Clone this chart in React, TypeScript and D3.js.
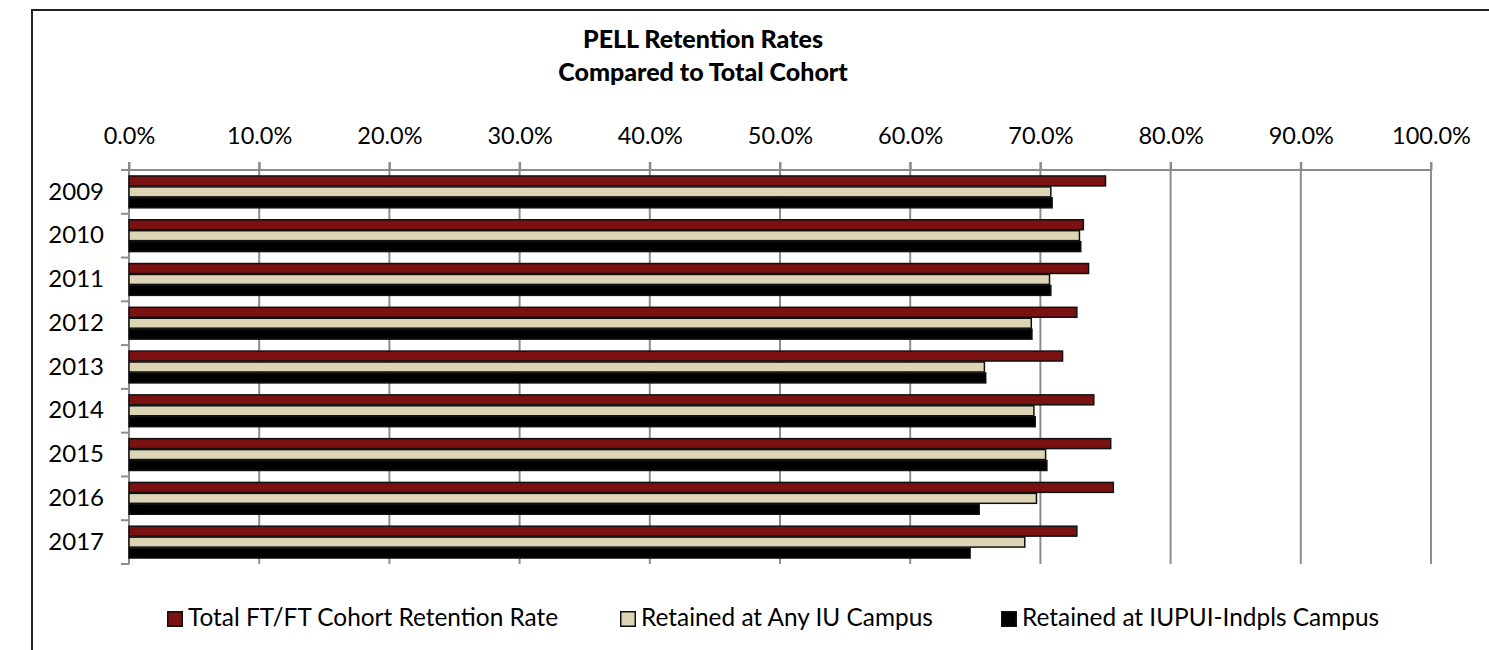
import * as d3 from 'd3';
import * as React from 'react';

const { useRef, useEffect } = React;

const width = 1489;
const height = 650;
const margin = { top: 170, right: 58, bottom: 86, left: 129 };

const years = ['2009', '2010', '2011', '2012', '2013', '2014', '2015', '2016', '2017'];

const seriesNames = [
  'Total FT/FT Cohort Retention Rate',
  'Retained at Any IU Campus',
  'Retained at IUPUI-Indpls Campus',
];

// values in %
const totalCohort = [75.0, 73.3, 73.7, 72.8, 71.7, 74.1, 75.4, 75.6, 72.8];
const anyIU = [70.8, 73.0, 70.7, 69.3, 65.7, 69.5, 70.4, 69.7, 68.8];
const iupuiIndpls = [70.9, 73.1, 70.8, 69.35, 65.8, 69.6, 70.5, 65.3, 64.6];

const xTicks = [0, 10, 20, 30, 40, 50, 60, 70, 80, 90, 100];

const colors = ['#7b1111', '#ddd5b6', '#000000'];
const legendX = [167, 620, 1001];

const font = 'Lato, Carlito, Calibri, sans-serif';

export default () => {
  const rootRef = useRef<HTMLDivElement>(null);

  useEffect(() => {
    const rootEl = rootRef.current;
    if (!rootEl) {
      return;
    }
    d3.select(rootEl).selectAll('*').remove();

    const series = [totalCohort, anyIU, iupuiIndpls];

    const x = d3
      .scaleLinear()
      .domain([0, 100])
      .range([margin.left, width - margin.right]);

    const y0 = d3
      .scaleBand()
      .domain(years)
      .range([margin.top, height - margin.bottom])
      .padding(0);

    const y1 = d3
      .scaleBand()
      .domain(seriesNames)
      .range([0, y0.bandwidth()])
      .paddingInner(0)
      .paddingOuter(0.5);

    const svg = d3
      .select(rootEl)
      .append('svg')
      .attr('width', width)
      .attr('height', height)
      .style('position', 'absolute')
      .style('left', 0)
      .style('top', 0)
      .style('background', '#fff')
      .attr('font-family', font);

    // outer frame
    svg
      .append('path')
      .attr('d', `M32,${height}V10H${width}`)
      .attr('fill', 'none')
      .attr('stroke', '#222')
      .attr('stroke-width', 2);

    // title
    const title = svg
      .append('text')
      .attr('text-anchor', 'middle')
      .attr('font-weight', 900)
      .attr('font-size', 25)
      .attr('fill', '#000');
    title.append('tspan').attr('x', 703).attr('y', 48).text('PELL Retention Rates');
    title.append('tspan').attr('x', 703).attr('y', 81).text('Compared to Total Cohort');

    // gridlines
    svg
      .append('g')
      .selectAll('line')
      .data(xTicks)
      .join('line')
      .attr('x1', d => x(d))
      .attr('x2', d => x(d))
      .attr('y1', margin.top - 8)
      .attr('y2', height - margin.bottom)
      .attr('stroke', '#8c8c8c')
      .attr('stroke-width', 2);

    // top axis
    const xAxis = svg
      .append('g')
      .attr('transform', `translate(0,${margin.top})`)
      .call(
        d3
          .axisTop(x)
          .tickValues(xTicks)
          .tickSize(8)
          .tickPadding(18)
          .tickFormat(d => `${(+d).toFixed(1)}%`),
      );
    xAxis.select('.domain').attr('d', `M${margin.left - 8},0H${x(100)}`).attr('stroke', '#8c8c8c').attr('stroke-width', 2);
    xAxis.selectAll('.tick line').attr('stroke', '#8c8c8c').attr('stroke-width', 2);
    xAxis
      .selectAll('.tick text')
      .attr('font-family', font)
      .attr('font-size', 23.5)
      .attr('fill', '#000');

    // left axis
    const yAxis = svg
      .append('g')
      .attr('transform', `translate(${margin.left},0)`)
      .call(d3.axisLeft(y0).tickSize(0).tickPadding(25));
    yAxis.select('.domain').remove();
    yAxis
      .selectAll('.tick text')
      .attr('font-family', font)
      .attr('font-size', 24)
      .attr('fill', '#000');

    svg
      .append('g')
      .selectAll('line')
      .data([...years.map(d => y0(d) as number), height - margin.bottom])
      .join('line')
      .attr('x1', margin.left - 8)
      .attr('x2', margin.left)
      .attr('y1', d => d)
      .attr('y2', d => d)
      .attr('stroke', '#8c8c8c')
      .attr('stroke-width', 2);

    svg
      .append('line')
      .attr('x1', margin.left)
      .attr('x2', margin.left)
      .attr('y1', margin.top)
      .attr('y2', height - margin.bottom)
      .attr('stroke', '#8c8c8c')
      .attr('stroke-width', 2);

    // bars
    svg
      .append('g')
      .selectAll('g')
      .data(years)
      .join('g')
      .attr('transform', d => `translate(0,${y0(d)})`)
      .selectAll('rect')
      .data((d, i) => seriesNames.map((name, s) => ({ name, s, value: series[s][i] })))
      .join('rect')
      .attr('x', x(0))
      .attr('y', d => (y1(d.name) as number) + 0.5)
      .attr('width', d => x(d.value) - x(0))
      .attr('height', y1.bandwidth() - 1)
      .attr('fill', d => colors[d.s])
      .attr('stroke', '#111')
      .attr('stroke-width', 1.5);

    // legend
    const legend = svg
      .append('g')
      .selectAll('g')
      .data(seriesNames)
      .join('g')
      .attr('transform', (d, i) => `translate(${legendX[i]},611)`);

    legend
      .append('rect')
      .attr('x', 0.75)
      .attr('y', 0.75)
      .attr('width', 14.5)
      .attr('height', 14.5)
      .attr('fill', (d, i) => colors[i])
      .attr('stroke', '#111')
      .attr('stroke-width', 1.5);

    legend
      .append('text')
      .attr('x', 21)
      .attr('y', 15)
      .attr('font-size', 24.4)
      .attr('fill', '#000')
      .text(d => d);
  }, []);

  return <div ref={rootRef} />;
};
